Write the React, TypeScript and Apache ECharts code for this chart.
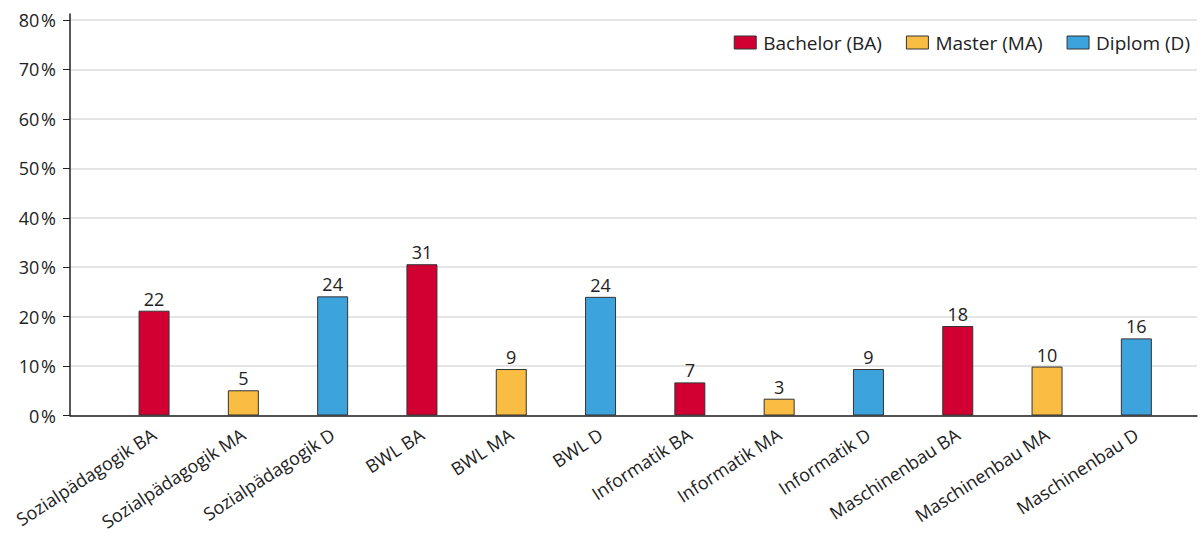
import React, { useEffect, useRef } from "react";
import * as echarts from "echarts";

const categories = [
  "Sozialpädagogik BA",
  "Sozialpädagogik MA",
  "Sozialpädagogik D",
  "BWL BA",
  "BWL MA",
  "BWL D",
  "Informatik BA",
  "Informatik MA",
  "Informatik D",
  "Maschinenbau BA",
  "Maschinenbau MA",
  "Maschinenbau D",
];
// bar heights in percent
const values = [21.2, 5.1, 24.1, 30.6, 9.4, 24.0, 6.7, 3.4, 9.4, 18.1, 9.9, 15.6];
// printed labels above bars
const valueLabels = ["22", "5", "24", "31", "9", "24", "7", "3", "9", "18", "10", "16"];
// degree type index per category: 0 = BA, 1 = MA, 2 = D
const degreeType = [0, 1, 2, 0, 1, 2, 0, 1, 2, 0, 1, 2];
const seriesNames = ["Bachelor (BA)", "Master (MA)", "Diplom (D)"];
const seriesColors = ["#d20032", "#f9bd43", "#3ca3dc"];
const yMin = 0;
const yMax = 80;
const yInterval = 10;

const FONT = "'Open Sans', 'Noto Sans', sans-serif";

export default function App() {
  const ref = useRef<HTMLDivElement>(null);
  useEffect(() => {
    if (!ref.current) return;
    const chart = echarts.init(ref.current, null, { renderer: "svg" });
    const plotTop = 20;
    const plotBottom = 127.5;
    const plotHeight = 543 - plotTop - plotBottom;
    const pxPerUnit = plotHeight / (yMax - yMin);
    const extTop = 14;
    const yMaxExt = yMax + (plotTop - extTop) / pxPerUnit;

    const series = seriesNames.map((name, s) => ({
      name,
      type: "bar",
      xAxisIndex: 1,
      yAxisIndex: 1,
      stack: "all",
      barWidth: 31,
      itemStyle: { color: seriesColors[s], borderColor: "#333", borderWidth: 1 },
      label: {
        show: true,
        position: "top",
        distance: 3,
        fontSize: 18,
        fontFamily: FONT,
        color: "#222",
        formatter: (p: any) => valueLabels[p.dataIndex],
      },
      data: values.map((v, i) => (degreeType[i] === s ? v : null)),
    }));

    chart.setOption({
      animation: false,
      backgroundColor: "#fff",
      textStyle: { fontFamily: FONT },
      legend: {
        right: 8,
        top: 28,
        itemWidth: 22,
        itemHeight: 13,
        itemGap: 24,
        textStyle: { fontSize: 19, color: "#222", fontFamily: FONT, padding: [0, 0, 0, 2] },
        data: seriesNames.map((n, s) => ({
          name: n,
          icon: "rect",
          itemStyle: { color: seriesColors[s], borderColor: "#333", borderWidth: 1 },
        })),
      },
      grid: [
        { left: 70, right: 6, top: plotTop, bottom: plotBottom, containLabel: false },
        { left: 109.4, right: 22, top: extTop, bottom: plotBottom, containLabel: false },
      ],
      xAxis: [
        {
          gridIndex: 0,
          type: "value",
          min: 0,
          max: 1,
          axisLabel: { show: false },
          axisTick: { show: false },
          splitLine: { show: false },
          axisLine: { show: true, lineStyle: { color: "#222", width: 1.5 } },
        },
        {
          gridIndex: 1,
          type: "category",
          data: categories,
          axisLine: { show: false },
          axisTick: { show: false },
          axisLabel: {
            rotate: 33,
            fontSize: 18,
            color: "#222",
            fontFamily: FONT,
            interval: 0,
            margin: 17,
          },
        },
      ],
      yAxis: [
        {
          gridIndex: 0,
          type: "value",
          min: yMin,
          max: yMax,
          interval: yInterval,
          axisLine: { show: false },
          axisTick: { show: true, length: 7, lineStyle: { color: "#222" } },
          axisLabel: {
            formatter: "{value}\u200a%",
            fontSize: 18,
            color: "#222",
            fontFamily: FONT,
            margin: 14,
          },
          splitLine: { show: true, lineStyle: { color: "#dcdcdc", width: 1.5 } },
        },
        {
          gridIndex: 1,
          type: "value",
          min: yMin,
          max: yMaxExt,
          offset: 39.4,
          axisLine: { show: true, lineStyle: { color: "#222", width: 1.5 } },
          axisTick: { show: false },
          axisLabel: { show: false },
          splitLine: { show: false },
        },
      ],
      series,
    });
    return () => chart.dispose();
  }, []);
  return (
    <div
      ref={ref}
      style={{ position: "fixed", left: 0, top: 0, width: 1203, height: 543 }}
    />
  );
}
